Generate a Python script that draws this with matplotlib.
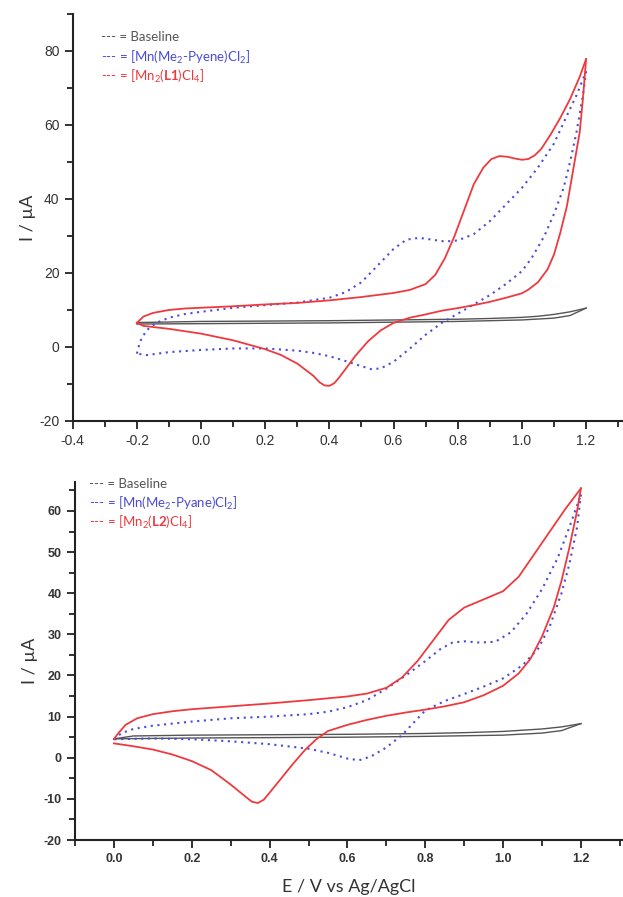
import matplotlib
matplotlib.use("Agg")
import matplotlib.pyplot as plt
from matplotlib.ticker import MultipleLocator

plt.rcParams['mathtext.fontset'] = 'custom'
plt.rcParams['mathtext.rm'] = 'Lato'
plt.rcParams['mathtext.bf'] = 'Lato:bold'
plt.rcParams['mathtext.it'] = 'Lato:italic'

# ---- top panel data (E / V, I / uA) ----
top_base_fwd_E = [-0.20, 0.00, 0.20, 0.40, 0.60, 0.80, 0.90, 1.00, 1.05, 1.10, 1.15, 1.20]
top_base_fwd_I = [6.6, 6.9, 7.0, 7.1, 7.3, 7.5, 7.7, 8.0, 8.3, 8.8, 9.5, 10.5]
top_base_rev_E = [1.20, 1.15, 1.10, 1.00, 0.80, 0.60, 0.40, 0.20, 0.00, -0.20]
top_base_rev_I = [10.5, 8.5, 7.8, 7.3, 6.9, 6.7, 6.5, 6.4, 6.3, 6.2]

top_red_fwd_E = [-0.20, -0.18, -0.15, -0.10, -0.05, 0.00, 0.10, 0.20, 0.30, 0.40, 0.50, 0.60, 0.65,
                 0.70, 0.73, 0.76, 0.79, 0.82, 0.85, 0.88, 0.905, 0.93, 0.955, 0.98, 1.00, 1.02,
                 1.04, 1.06, 1.09, 1.12, 1.15, 1.18, 1.20]
top_red_fwd_I = [6.5, 8.2, 9.2, 10.0, 10.4, 10.6, 11.0, 11.5, 11.9, 12.6, 13.5, 14.6, 15.4,
                 17.0, 19.5, 24.0, 30.0, 37.0, 44.0, 48.5, 50.8, 51.6, 51.4, 50.9, 50.6, 50.8,
                 51.8, 53.5, 57.5, 62.0, 67.0, 73.0, 77.8]
top_red_rev_E = [1.20, 1.19, 1.18, 1.16, 1.14, 1.12, 1.10, 1.08, 1.05, 1.02, 1.00, 0.95, 0.90,
                 0.85, 0.80, 0.75, 0.70, 0.65, 0.60, 0.56, 0.52, 0.48, 0.45, 0.43, 0.415, 0.40,
                 0.385, 0.37, 0.35, 0.30, 0.25, 0.20, 0.10, 0.00, -0.10, -0.18, -0.20]
top_red_rev_I = [77.8, 67.0, 58.0, 48.0, 38.0, 31.0, 25.0, 21.0, 17.5, 15.5, 14.5, 13.3, 12.2,
                 11.3, 10.5, 9.8, 8.8, 7.9, 6.5, 4.5, 1.5, -2.5, -6.0, -8.3, -9.8, -10.5,
                 -10.4, -9.6, -7.8, -4.5, -2.2, -0.6, 1.8, 3.6, 4.9, 5.7, 6.5]

top_blue_fwd_E = [-0.20, -0.19, -0.17, -0.14, -0.10, -0.05, 0.00, 0.10, 0.20, 0.30, 0.40, 0.45,
                  0.50, 0.55, 0.60, 0.64, 0.68, 0.72, 0.76, 0.80, 0.85, 0.90, 0.95, 1.00, 1.05,
                  1.10, 1.14, 1.17, 1.20]
top_blue_fwd_I = [-1.8, 1.5, 4.5, 6.5, 7.9, 8.9, 9.5, 10.6, 11.3, 12.0, 13.3, 14.8,
                  17.5, 22.0, 26.5, 29.0, 29.5, 29.0, 28.5, 28.8, 30.5, 34.0, 38.5, 43.0, 48.5,
                  55.0, 62.5, 68.0, 74.5]
top_blue_rev_E = [1.20, 1.19, 1.17, 1.15, 1.13, 1.10, 1.07, 1.03, 1.00, 0.95, 0.90, 0.85, 0.80,
                  0.75, 0.70, 0.65, 0.60, 0.56, 0.53, 0.50, 0.45, 0.40, 0.35, 0.30, 0.20, 0.10,
                  0.00, -0.10, -0.17, -0.20]
top_blue_rev_I = [74.5, 68.0, 58.0, 50.0, 43.0, 36.0, 30.0, 24.0, 20.5, 17.0, 14.0, 11.5, 9.0,
                  6.5, 3.3, -0.5, -4.0, -5.8, -6.0, -5.2, -3.8, -2.5, -1.6, -1.0, -0.4, -0.4,
                  -0.8, -1.4, -2.2, -1.8]

# ---- bottom panel data ----
bot_base_fwd_E = [0.00, 0.05, 0.20, 0.40, 0.60, 0.80, 0.90, 1.00, 1.10, 1.15, 1.20]
bot_base_fwd_I = [4.6, 5.3, 5.5, 5.6, 5.7, 5.9, 6.1, 6.4, 7.0, 7.5, 8.3]
bot_base_rev_E = [1.20, 1.15, 1.10, 1.00, 0.80, 0.60, 0.40, 0.20, 0.00]
bot_base_rev_I = [8.3, 6.6, 6.0, 5.5, 5.2, 5.0, 4.9, 4.8, 4.6]

bot_red_fwd_E = [0.00, 0.01, 0.03, 0.06, 0.10, 0.15, 0.20, 0.30, 0.40, 0.50, 0.60, 0.65, 0.70,
                 0.74, 0.78, 0.82, 0.86, 0.90, 0.95, 1.00, 1.04, 1.08, 1.12, 1.16, 1.20]
bot_red_fwd_I = [4.5, 5.8, 8.0, 9.6, 10.6, 11.3, 11.8, 12.5, 13.2, 14.0, 14.9, 15.6, 17.0,
                 19.5, 23.5, 28.5, 33.5, 36.5, 38.5, 40.5, 44.0, 49.5, 55.0, 60.5, 65.5]
bot_red_rev_E = [1.20, 1.19, 1.17, 1.15, 1.13, 1.10, 1.07, 1.04, 1.00, 0.95, 0.90, 0.85, 0.80,
                 0.75, 0.70, 0.65, 0.60, 0.55, 0.52, 0.49, 0.46, 0.43, 0.40, 0.385, 0.37, 0.355,
                 0.34, 0.30, 0.25, 0.20, 0.15, 0.10, 0.05, 0.00]
bot_red_rev_I = [65.5, 60.0, 51.0, 43.0, 36.5, 29.5, 24.0, 20.5, 17.5, 15.2, 13.5, 12.5, 11.7,
                 11.0, 10.2, 9.2, 8.0, 6.5, 4.5, 1.8, -1.5, -5.0, -8.5, -10.2, -11.0, -10.7,
                 -9.6, -6.5, -3.0, -0.8, 0.8, 2.0, 2.8, 3.5]

bot_blue_fwd_E = [0.00, 0.02, 0.05, 0.10, 0.20, 0.30, 0.40, 0.50, 0.55, 0.60, 0.65, 0.70, 0.75,
                  0.80, 0.84, 0.87, 0.90, 0.94, 0.98, 1.02, 1.06, 1.10, 1.14, 1.17, 1.20]
bot_blue_fwd_I = [4.5, 6.0, 7.0, 7.8, 8.8, 9.6, 10.0, 10.6, 11.2, 12.3, 14.0, 16.8, 20.0,
                  23.5, 26.5, 28.0, 28.3, 28.0, 28.2, 30.5, 35.0, 41.0, 48.5, 56.0, 64.0]
bot_blue_rev_E = [1.20, 1.19, 1.17, 1.15, 1.12, 1.09, 1.05, 1.00, 0.95, 0.90, 0.85, 0.80, 0.77,
                  0.74, 0.70, 0.66, 0.63, 0.60, 0.55, 0.50, 0.40, 0.30, 0.20, 0.10, 0.00]
bot_blue_rev_I = [64.0, 56.0, 47.0, 40.0, 32.0, 26.5, 22.5, 19.3, 17.3, 15.5, 13.8, 11.5, 8.5,
                  5.5, 2.5, 0.3, -0.6, -0.2, 1.2, 2.2, 3.3, 4.0, 4.5, 4.7, 4.5]

c_base = '#555555'
c_blue = '#4b4bd6'
c_red = '#ee3a3f'

fig = plt.figure(figsize=(6.23, 8.97), dpi=100)
ax1 = fig.add_axes([0.1167, 0.5307, 0.8833, 0.4537])
ax2 = fig.add_axes([0.1197, 0.0635, 0.8803, 0.3990])


def draw(ax, base, blue, red):
    for E, I in base:
        ax.plot(E, I, color=c_base, lw=1.0)
    for E, I in blue:
        ax.plot(E, I, color=c_blue, lw=1.5, ls=(0, (1, 2.2)))
    for E, I in red:
        ax.plot(E, I, color=c_red, lw=1.3)
    for s in ['top', 'right']:
        ax.spines[s].set_visible(False)
    for s in ['left', 'bottom']:
        ax.spines[s].set_linewidth(1.5)
        ax.spines[s].set_color('#222222')
    ax.tick_params(which='major', direction='out', length=6, width=1.3, color='#222222')
    ax.tick_params(which='minor', direction='out', length=4, width=1.3, color='#222222')


draw(ax1,
     [(top_base_fwd_E, top_base_fwd_I), (top_base_rev_E, top_base_rev_I)],
     [(top_blue_fwd_E, top_blue_fwd_I), (top_blue_rev_E, top_blue_rev_I)],
     [(top_red_fwd_E, top_red_fwd_I), (top_red_rev_E, top_red_rev_I)])
draw(ax2,
     [(bot_base_fwd_E, bot_base_fwd_I), (bot_base_rev_E, bot_base_rev_I)],
     [(bot_blue_fwd_E, bot_blue_fwd_I), (bot_blue_rev_E, bot_blue_rev_I)],
     [(bot_red_fwd_E, bot_red_fwd_I), (bot_red_rev_E, bot_red_rev_I)])

ax1.set_xlim(-0.4, 1.315)
ax1.set_ylim(-20, 90)
ax1.xaxis.set_minor_locator(MultipleLocator(0.1))
ax1.yaxis.set_minor_locator(MultipleLocator(10))
ax1.set_xticks([-0.4, -0.2, 0.0, 0.2, 0.4, 0.6, 0.8, 1.0, 1.2])
ax1.set_xticklabels(['-0.4', '-0.2', '0.0', '0.2', '0.4', '0.6', '0.8', '1.0', '1.2'])
ax1.set_yticks([-20, 0, 20, 40, 60, 80])
ax1.set_yticklabels(['-20', '0', '20', '40', '60', '80'])
for lab in ax1.get_xticklabels() + ax1.get_yticklabels():
    lab.set_fontfamily('Liberation Sans')
    lab.set_fontsize(10)
    lab.set_color('#333333')

ax2.set_xlim(-0.101, 1.308)
ax2.set_ylim(-20, 67)
ax2.xaxis.set_minor_locator(MultipleLocator(0.1))
ax2.yaxis.set_minor_locator(MultipleLocator(5))
ax2.set_xticks([0.0, 0.2, 0.4, 0.6, 0.8, 1.0, 1.2])
ax2.set_xticklabels(['0.0', '0.2', '0.4', '0.6', '0.8', '1.0', '1.2'])
ax2.set_yticks([-20, -10, 0, 10, 20, 30, 40, 50, 60])
ax2.set_yticklabels(['-20', '-10', '0', '10', '20', '30', '40', '50', '60'])
for lab in ax2.get_xticklabels() + ax2.get_yticklabels():
    lab.set_fontfamily('Liberation Sans')
    lab.set_fontsize(9)
    lab.set_fontweight('bold')
    lab.set_color('#333333')

ax1.set_ylabel('I / µA', family='Lato', fontsize=13, color='#333333', labelpad=2)
ax2.set_ylabel('I / µA', family='Lato', fontsize=13, color='#333333', labelpad=4)
ax2.set_xlabel('E / V vs Ag/AgCl', family='Lato', fontsize=13, color='#333333', labelpad=10)

# legend-like text
leg_font = dict(family='Lato', fontsize=9.5, va='center', ha='left')
fig.text(101 / 623, 1 - 37 / 897, '--- = Baseline', color='#555555', **leg_font)
fig.text(101 / 623, 1 - 57 / 897, '--- = [Mn(Me$_2$-Pyene)Cl$_2$]', color=c_blue, **leg_font)
fig.text(101 / 623, 1 - 76 / 897, '--- = [Mn$_2$($\\mathbf{L1}$)Cl$_4$]', color=c_red, **leg_font)

fig.text(89 / 623, 1 - 484 / 897, '--- = Baseline', color='#555555', **leg_font)
fig.text(89 / 623, 1 - 503 / 897, '--- = [Mn(Me$_2$-Pyane)Cl$_2$]', color=c_blue, **leg_font)
fig.text(89 / 623, 1 - 522 / 897, '--- = [Mn$_2$($\\mathbf{L2}$)Cl$_4$]', color=c_red, **leg_font)

fig.savefig('out.png', dpi=100)
